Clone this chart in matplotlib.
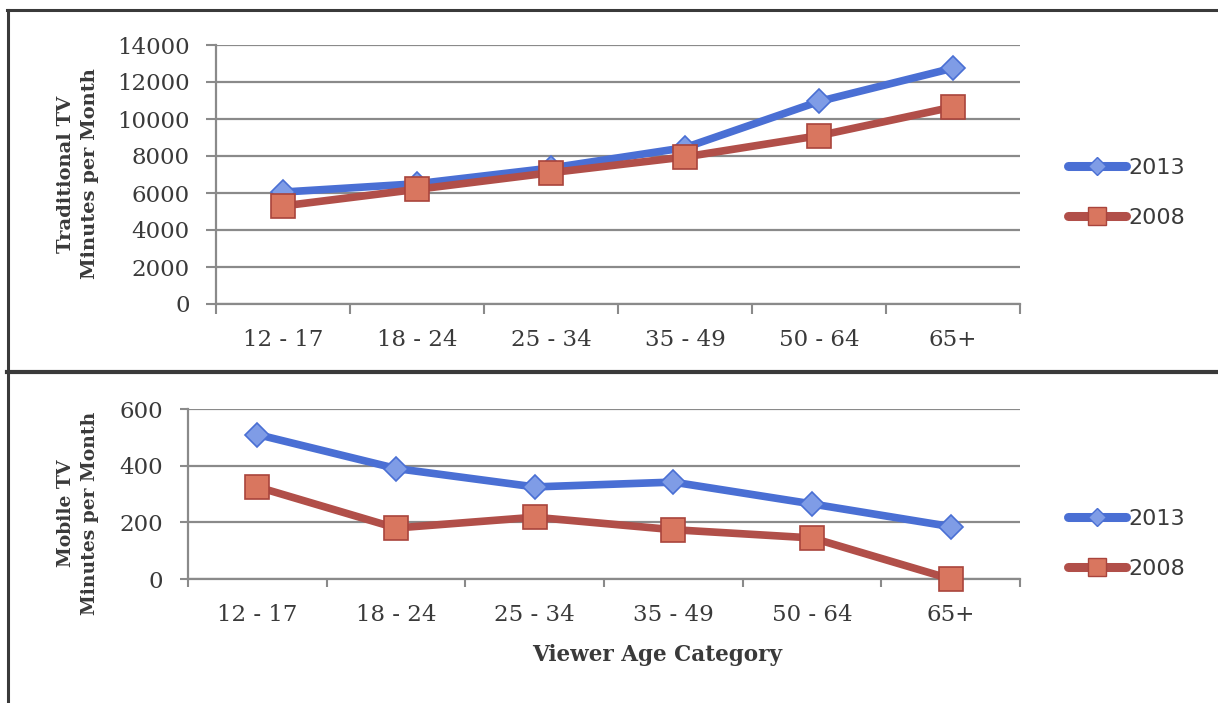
import numpy as np
import matplotlib
matplotlib.use("Agg")
import matplotlib.pyplot as plt
from matplotlib.lines import Line2D

# --- DATA ---
age_groups = ["12 - 17", "18 - 24", "25 - 34", "35 - 49", "50 - 64", "65+"]
years = ["2013", "2008"]

traditional_2013 = [6050, 6500, 7350, 8450, 10950, 12750]
traditional_2008 = [5300, 6200, 7100, 7950, 9100, 10650]

mobile_2013 = [510, 390, 325, 342, 265, 185]
mobile_2008 = [325, 180, 218, 174, 145, 0]

trad_ticks = [0, 2000, 4000, 6000, 8000, 10000, 12000, 14000]
mobile_ticks = [0, 200, 400, 600]

# --- STYLE ---
W, H = 1218, 703
BLUE = "#4a6fd4"
BLUE_FILL = "#7f9ce6"
RED = "#b14f49"
RED_FILL = "#d9765f"
RED_EDGE = "#a9443c"
GRID = "#8a8a8a"
TEXT = "#3a3a3a"
FRAME = "#3a3a3a"

plt.rcParams["font.family"] = "DejaVu Serif"


def px_box(left, top, right, bottom):
    # pixel box -> figure fraction [x, y, w, h]
    return [left / W, 1 - bottom / H, (right - left) / W, (bottom - top) / H]


def style_axes(ax, ticks, tick_len):
    x = np.arange(len(age_groups))
    ax.set_xlim(-0.5, len(age_groups) - 0.5)
    ax.set_ylim(ticks[0], ticks[-1])
    ax.set_xticks(x)
    ax.set_xticklabels(age_groups)
    ax.set_xticks(np.arange(-0.5, len(age_groups)), minor=True)
    ax.set_yticks(ticks)
    ax.tick_params(axis="x", which="major", length=0, pad=18, labelsize=16.5, labelcolor=TEXT)
    ax.tick_params(axis="x", which="minor", length=tick_len, width=1.5, color=GRID, direction="out")
    ax.tick_params(axis="y", length=tick_len, width=1.5, color=GRID, pad=12, labelsize=16.5, labelcolor=TEXT)
    ax.yaxis.grid(True, color=GRID, linewidth=1.6)
    ax.set_axisbelow(True)
    for side in ["top", "right"]:
        ax.spines[side].set_visible(False)
    for side in ["left", "bottom"]:
        ax.spines[side].set_color(GRID)
        ax.spines[side].set_linewidth(1.6)


def draw_series(ax, v2013, v2008):
    x = np.arange(len(age_groups))
    ax.plot(x, v2013, color=BLUE, lw=5.5, marker="D", markersize=12.5,
            markerfacecolor=BLUE_FILL, markeredgecolor=BLUE, markeredgewidth=1.2,
            solid_joinstyle="round", clip_on=False, zorder=3)
    ax.plot(x, v2008, color=RED, lw=5.5, marker="s", markersize=17.5,
            markerfacecolor=RED_FILL, markeredgecolor=RED_EDGE, markeredgewidth=1.2,
            solid_joinstyle="round", clip_on=False, zorder=4)


def add_legend(ax, center_y):
    handles = [
        Line2D([], [], color=BLUE, lw=6.5, solid_capstyle="round", marker="D",
               markersize=9, markerfacecolor=BLUE_FILL, markeredgecolor=BLUE),
        Line2D([], [], color=RED, lw=6.5, solid_capstyle="round", marker="s",
               markersize=12.5, markerfacecolor=RED_FILL, markeredgecolor=RED_EDGE),
    ]
    leg = ax.legend(handles, years, loc="center left",
                    bbox_to_anchor=(1057 / W, 1 - center_y / H),
                    bbox_transform=ax.figure.transFigure, frameon=False,
                    borderpad=0, handlelength=2.6, handletextpad=0.1,
                    labelspacing=1.35, prop={"family": "DejaVu Sans", "size": 16})
    for t in leg.get_texts():
        t.set_color(TEXT)


fig = plt.figure(figsize=(W / 100, H / 100), dpi=100)

# --- TOP PANEL: traditional TV ---
ax_top = fig.add_axes(px_box(216, 45, 1020, 304))
style_axes(ax_top, trad_ticks, 7)
draw_series(ax_top, traditional_2013, traditional_2008)
add_legend(ax_top, 193)
fig.text(78 / W, 1 - 174 / H, "Traditional TV\nMinutes per Month", rotation=90,
         ha="center", va="center", ma="center", fontsize=14, fontweight="bold",
         color=TEXT, linespacing=1.4)

# --- BOTTOM PANEL: mobile TV ---
ax_bot = fig.add_axes(px_box(188, 409, 1020, 579))
style_axes(ax_bot, mobile_ticks, 6)
draw_series(ax_bot, mobile_2013, mobile_2008)
add_legend(ax_bot, 544)
fig.text(78 / W, 1 - 513 / H, "Mobile TV\nMinutes per Month", rotation=90,
         ha="center", va="center", ma="center", fontsize=13.5, fontweight="bold",
         color=TEXT, linespacing=1.4)
fig.text(657 / W, 1 - 655 / H, "Viewer Age Category", ha="center", va="center",
         fontsize=15.5, fontweight="bold", color=TEXT)

# --- FRAME LINES ---
fig.add_artist(Line2D([7 / W, 1], [1 - 10 / H, 1 - 10 / H], color=FRAME, lw=2.2))
fig.add_artist(Line2D([7 / W, 1], [1 - 372.5 / H, 1 - 372.5 / H], color=FRAME, lw=3))
fig.add_artist(Line2D([8 / W, 8 / W], [0, 1 - 10 / H], color=FRAME, lw=2.2))

fig.savefig("out.png", dpi=100)
plt.close(fig)
